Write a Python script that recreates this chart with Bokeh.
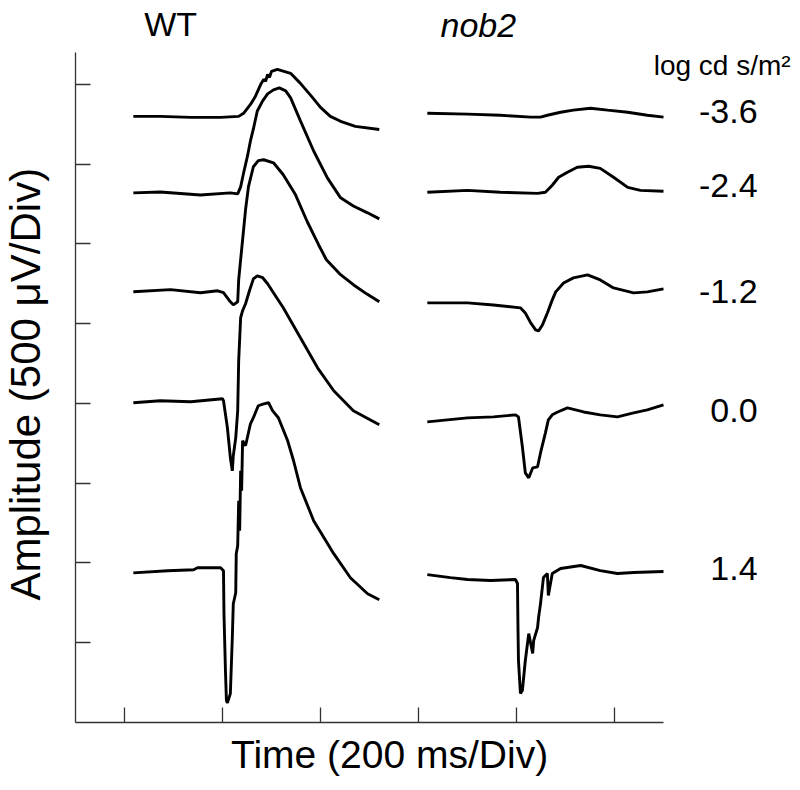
import numpy as np
from bokeh.plotting import figure
from bokeh.models import Range1d, FixedTicker
from bokeh.embed import file_html
from bokeh.resources import INLINE
from bokeh.core.properties import value

FONT = "Liberation Sans"

# ---- axes (time in ms, amplitude in microvolts) ----
time_ticks = [0, 200, 400, 600, 800, 1000]
amp_ticks = [0, 500, 1000, 1500, 2000, 2500, 3000, 3500]

# ---- flash intensities and vertical offsets of each trace (µV) ----
intensities = ["-3.6", "-2.4", "-1.2", "0.0", "1.4"]
wt_offsets = [3300, 2820, 2200, 1510, 450]
nob2_offsets = [3320, 2830, 2130, 1390, 420]
label_y = [3330, 2866, 2201, 1455, 464]

# ---- WT traces: time (ms), amplitude (µV, relative to baseline) ----
wt_36_t = [18, 73, 135, 196, 233, 243, 257, 267, 278, 284, 288, 292, 296, 300, 312, 339, 359, 380, 400, 420, 441, 471, 520]
wt_36_a = [0, 0, -6, -6, 0, 19, 75, 125, 201, 232, 220, 263, 245, 282, 295, 270, 207, 132, 56, 0, -31, -63, -82]

wt_24_t = [18, 73, 155, 216, 231, 237, 243, 251, 257, 263, 271, 282, 292, 304, 316, 329, 339, 359, 386, 414, 441, 467, 496, 520]
wt_24_a = [0, 6, -13, 0, -6, 38, 125, 232, 326, 401, 514, 577, 621, 646, 659, 640, 596, 452, 263, 94, -31, -82, -125, -163]

wt_12_t = [18, 94, 155, 190, 202, 216, 222, 231, 233, 237, 247, 253, 263, 273, 284, 304, 324, 349, 373, 396, 412, 441, 467, 494, 520]
wt_12_a = [0, 13, -6, 6, -6, -63, -82, -63, 75, 201, 514, 659, 784, 822, 828, 809, 734, 608, 439, 295, 201, 107, 44, -13, -63]

wt_00_t = [18, 73, 135, 200, 202, 210, 216, 220, 222, 227, 231, 233, 237, 241, 247, 255, 263, 271, 282, 292, 324, 359, 394, 427, 467, 520]
wt_00_a = [-6, 6, 0, 19, 6, -163, -351, -433, -339, -226, -56, 257, 527, 571, 615, 696, 771, 790, 778, 740, 590, 401, 213, 69, -56, -144]

wt_14_t = [18, 88, 141, 149, 196, 202, 203, 206, 208, 210, 216, 220, 222, 227, 228, 231, 233, 235, 237, 239,
           241, 247, 257, 263, 273, 284, 294, 302, 314, 333, 345, 359, 386, 427, 461, 496, 520]
wt_14_a = [-13, 0, 6, 19, 19, 0, -270, -627, -815, -828, -771, -420, -207, -138, 107, 157, 439, 251, 627, 502,
           815, 784, 922, 960, 1035, 1047, 1054, 1004, 960, 815, 690, 521, 314, 107, -44, -144, -182]

# ---- nob2 traces ----
n_36_t = [618, 700, 767, 829, 849, 863, 890, 916, 951, 986, 1027, 1067, 1100]
n_36_a = [0, -6, -13, -25, -25, -13, 6, 19, 31, 19, 6, -13, -25]

n_24_t = [618, 700, 767, 843, 859, 873, 886, 904, 924, 947, 971, 998, 1027, 1053, 1100]
n_24_a = [-6, 6, -6, -13, -6, 38, 88, 119, 151, 157, 144, 88, 25, 6, 0]

n_12_t = [618, 700, 753, 808, 818, 829, 839, 845, 853, 863, 873, 880, 896, 916, 945, 971, 998, 1039, 1067, 1100]
n_12_a = [0, 0, -13, -31, -63, -125, -169, -176, -138, -63, 19, 69, 125, 157, 176, 144, 94, 63, 69, 88]

n_00_t = [618, 700, 753, 798, 804, 812, 818, 825, 833, 843, 849, 859, 865, 873, 884, 904, 937, 971, 1006, 1039, 1067, 1100]
n_00_a = [-6, 19, 25, 38, 25, -163, -326, -357, -295, -288, -201, -75, 6, 38, 56, 82, 56, 38, 25, 50, 69, 100]

n_14_t = [618, 665, 700, 747, 798, 802, 803, 804, 808, 812, 818, 825, 833, 835, 843, 845, 849, 855, 863, 865,
          873, 890, 931, 971, 1006, 1039, 1100]
n_14_a = [6, -13, -25, -31, -25, -50, -326, -533, -740, -721, -533, -364, -489, -408, -326, -264, -176, -13, 13, -125,
          13, 44, 63, 31, 13, 19, 25]

wt_traces = [(wt_36_t, wt_36_a), (wt_24_t, wt_24_a), (wt_12_t, wt_12_a), (wt_00_t, wt_00_a), (wt_14_t, wt_14_a)]
nob2_traces = [(n_36_t, n_36_a), (n_24_t, n_24_a), (n_12_t, n_12_a), (n_00_t, n_00_a), (n_14_t, n_14_a)]

p = figure(width=800, height=790, x_range=Range1d(-253.1, 1379.6), y_range=Range1d(-928.3, 4026.8),
           output_backend="svg", toolbar_location=None,
           min_border_left=0, min_border_right=0, min_border_top=0, min_border_bottom=0)
p.grid.visible = False
p.outline_line_color = None
p.background_fill_color = "white"

p.xaxis.fixed_location = -502
p.yaxis.fixed_location = -100
for axis, ticks, bounds in ((p.xaxis[0], time_ticks, (-100, 1100)), (p.yaxis[0], amp_ticks, (-502, 3700))):
    axis.ticker = FixedTicker(ticks=ticks)
    axis.bounds = bounds
    axis.major_tick_in = 15
    axis.major_tick_out = 0
    axis.minor_tick_line_color = None
    axis.major_label_text_font_size = "0px"
    axis.major_label_text_color = None
    axis.major_label_standoff = 0
    axis.axis_line_color = "#333333"
    axis.major_tick_line_color = "#333333"
    axis.axis_line_width = 1.3
    axis.major_tick_line_width = 1.3

for (t, a), off in zip(wt_traces, wt_offsets):
    p.line(t, off + np.array(a), line_color="black", line_width=2.9)
for (t, a), off in zip(nob2_traces, nob2_offsets):
    p.line(t, off + np.array(a), line_color="black", line_width=2.9)

# axis titles
p.text(x=[541], y=[-702], text=["Time (200 ms/Div)"], text_font=value(FONT), text_font_size="39px",
       text_align="center", text_baseline="alphabetic", text_color="black")
p.text(x=[-202], y=[1620], text=["Amplitude (500 μV/Div)"], angle=np.pi / 2, text_font=value(FONT),
       text_font_size="42px", text_align="center", text_baseline="alphabetic", text_color="black")

p.text(x=[94], y=[3882], text=["WT"], text_font=value(FONT), text_font_size="34px",
       text_align="center", text_baseline="alphabetic", text_color="black")
p.text(x=[645], y=[3876], text=["nob2"], text_font=value(FONT), text_font_size="34px",
       text_font_style="italic", text_align="left", text_baseline="alphabetic", text_color="black")
p.text(x=[1080], y=[3619], text=["log cd s/m²"], text_font=value(FONT), text_font_size="28px",
       text_align="left", text_baseline="alphabetic", text_color="black")
p.text(x=[1292] * len(intensities), y=label_y, text=intensities, text_font=value(FONT),
       text_font_size="34px", text_align="right", text_baseline="alphabetic", text_color="black")

open("out.html", "w").write(file_html(p, INLINE))
